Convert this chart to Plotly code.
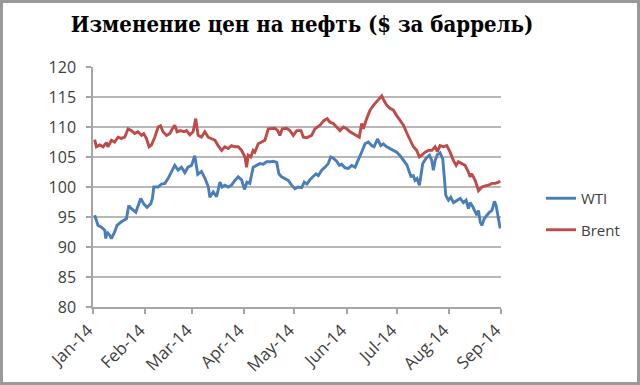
import pandas as pd
import plotly.graph_objects as go

# Days since 1 Jan 2014 at which prices were read, and prices ($ per barrel)
wti_day = [1.0, 2.0, 3.0, 5.0, 7.0, 7.6, 8.3, 10.0, 11.0, 12.9, 14.3, 16.9, 19.9, 21.3, 22.9,
           25.5, 26.8, 28.4, 30.2, 32.2, 34.4, 35.4, 36.2, 38.8, 40.8, 42.8, 44.7, 46.8, 48.7,
           50.7, 52.7, 54.7, 56.6, 58.7, 60.6, 62.4, 64.6, 66.6, 68.6, 69.6, 71.6, 73.6, 75.6,
           76.9, 78.5, 80.5, 82.5, 84.5, 86.5, 88.5, 90.2, 91.7, 93.4, 95.4, 97.4, 99.4, 101.4,
           103.4, 105.4, 107.3, 109.4, 110.7, 112.3, 114.3, 116.3, 118.3, 120.3, 122.2, 124.3,
           125.8, 127.4, 129.2, 131.2, 132.8, 134.2, 136.2, 138.2, 140.1, 141.6, 143.1, 145.1,
           146.7, 148.1, 150.1, 152.1, 154.1, 156.1, 158.0, 160.0, 162.0, 164.0, 166.0, 167.4,
           169.4, 171.4, 172.9, 174.9, 176.9, 178.9, 180.9, 182.9, 184.9, 186.9, 189.3, 190.8,
           191.8, 193.0, 194.4, 195.2, 196.4, 198.4, 200.4, 201.8, 202.7, 203.8, 205.1, 206.7,
           208.3, 209.3, 210.1, 211.7, 213.1, 214.7, 216.7, 218.7, 220.6, 222.2, 223.6, 224.6,
           226.2, 227.6, 228.6, 229.6, 230.6, 231.6, 233.0, 234.6, 236.1, 237.6, 239.1, 240.1,
           241.1, 242.5]
wti = [95.3, 94.2, 93.6, 93.3, 92.8, 91.4, 92.5, 91.95, 91.4, 92.5, 93.6, 94.2, 94.7, 96.9, 96.4,
       95.8, 96.7, 98.1, 97.2, 96.6, 97.2, 98.1, 100.0, 100.0, 100.5, 100.6, 101.4, 102.5, 103.6,
       102.8, 103.3, 102.4, 103.3, 103.6, 105.2, 102.1, 102.6, 101.5, 100.1, 98.3, 99.2, 98.4, 100.8,
       100.0, 100.3, 100.0, 100.3, 101.1, 101.7, 101.2, 99.6, 100.8, 100.6, 103.3, 103.6, 103.9, 103.8,
       104.2, 104.2, 104.3, 104.1, 102.2, 101.7, 101.4, 101.1, 100.3, 99.7, 100.0, 99.9,
       100.8, 100.5, 101.2, 101.7, 102.2, 101.9, 102.8, 103.3, 103.9, 105.0, 104.8, 104.3,
       103.6, 103.8, 103.2, 103.1, 103.6, 103.3, 104.4, 105.8, 107.2, 107.5, 106.9, 106.7,
       108.0, 106.9, 107.2, 106.7, 106.4, 106.1, 105.8, 105.2, 104.4, 103.7, 101.8, 101.9,
       101.1, 101.4, 100.3, 101.9, 103.9, 104.8, 105.3, 104.4, 102.8, 104.4, 105.4, 105.7,
       104.7, 101.4, 98.6, 97.8, 98.3, 97.4, 97.8, 98.1, 97.4, 97.8, 96.4, 97.4,
       96.7, 95.8, 95.3, 96.1, 94.2, 93.6, 94.7, 95.3, 95.8, 96.1, 97.6, 96.9,
       95.3, 93.1]

brent_day = [1.0, 2.0, 4.0, 6.0, 8.0, 8.9, 11.0, 12.9, 14.9, 16.9, 18.9, 20.9, 22.9, 24.9, 26.8,
             28.9, 30.2, 31.8, 33.4, 34.8, 36.8, 38.8, 40.2, 41.7, 43.8, 45.7, 47.3, 48.7, 50.1,
             52.1, 54.1, 55.7, 57.7, 59.6, 61.2, 62.6, 64.6, 66.6, 68.6, 70.6, 72.6, 74.5, 76.6,
             78.5, 80.5, 82.5, 84.5, 86.5, 88.5, 90.5, 91.5, 92.4, 94.0, 95.4, 96.4, 98.4, 100.4,
             102.4, 104.4, 106.4, 108.4, 110.0, 111.3, 112.7, 115.3, 117.3, 119.3, 121.3, 123.9,
             125.3, 127.3, 130.2, 132.2, 135.2, 137.6, 139.5, 141.1, 143.1, 145.1, 147.1, 149.1,
             151.1, 153.1, 155.0, 157.1, 158.6, 160.0, 161.0, 163.0, 165.0, 167.0, 169.4, 172.0,
             173.3, 175.0, 176.9, 178.9, 180.9, 182.9, 184.9, 186.9, 188.9, 190.8, 192.8, 194.4,
             195.8, 197.8, 199.8, 201.8, 203.8, 205.1, 206.7, 208.7, 210.7, 212.7, 214.7, 216.3,
             217.6, 219.7, 221.6, 223.6, 224.6, 225.6, 227.6, 229.6, 231.6, 233.6, 235.5, 237.6,
             239.5, 241.5, 242.5]
brent = [107.9, 106.7, 107.0, 106.7, 107.4, 106.7, 107.8, 107.5, 108.3, 108.1, 108.3, 109.7, 109.4, 108.9, 109.2,
         108.6, 108.9, 108.1, 106.7, 107.0, 108.3, 110.0, 110.2, 109.2, 108.6, 108.9, 109.7, 110.3, 109.2,
         109.4, 109.2, 109.4, 108.7, 109.2, 111.4, 108.6, 108.3, 109.2, 108.3, 108.1, 107.8, 106.9, 106.1,
         106.7, 106.4, 106.9, 106.7, 106.7, 106.1, 105.0, 103.3, 105.3, 105.0, 106.1, 105.8, 107.2, 107.5,
         107.8, 109.7, 109.8, 109.8, 109.4, 108.6, 109.7, 109.8, 109.4, 108.6, 109.4, 109.4,
         108.3, 108.2, 108.6, 109.7, 110.3, 111.1, 111.4, 110.8, 110.6, 110.0, 109.4, 110.0,
         109.7, 109.2, 108.9, 108.6, 108.3, 110.6, 109.7, 111.4, 112.8, 113.6, 114.4, 115.2,
         114.4, 113.6, 113.1, 112.8, 111.9, 111.1, 110.3, 109.0, 107.7, 106.7, 106.1, 105.0,
         105.3, 105.8, 106.1, 106.1, 106.7, 105.9, 106.9, 106.7, 106.9, 105.8, 104.4, 103.6,
         104.2, 103.9, 103.6, 102.5, 101.7, 102.2, 101.1, 99.4, 100.0, 100.2, 100.3, 100.6,
         100.6, 100.8, 101.0]

month_ticks = ["2014-01-01", "2014-02-01", "2014-03-01", "2014-04-01", "2014-05-01",
               "2014-06-01", "2014-07-01", "2014-08-01", "2014-09-01"]
month_labels = ["Jan-14", "Feb-14", "Mar-14", "Apr-14", "May-14", "Jun-14", "Jul-14", "Aug-14", "Sep-14"]

title_text = "Изменение цен на нефть ($ за баррель)"

start = pd.Timestamp("2014-01-01")
wti_dates = start + pd.to_timedelta(wti_day, unit="D")
brent_dates = start + pd.to_timedelta(brent_day, unit="D")

fig = go.Figure()
fig.add_trace(go.Scatter(x=wti_dates, y=wti, mode="lines", name="WTI", legendgroup="wti",
                         line=dict(color="#4A7EBB", width=2.9)))
fig.add_trace(go.Scatter(x=brent_dates, y=brent, mode="lines", name="Brent", legendgroup="brent",
                         line=dict(color="#BE4B48", width=2.9)))

L, R, T, B = 93, 139, 67, 78
W, H = 640, 385
pw, ph = W - L - R, H - T - B

fig.update_layout(
    width=W, height=H,
    margin=dict(l=L, r=R, t=T, b=B, autoexpand=False),
    paper_bgcolor="white", plot_bgcolor="white",
    title=dict(text=title_text, x=0.472, xref="container", xanchor="center",
               y=1 - 24 / H, yref="container", yanchor="middle",
               font=dict(family="DejaVu Serif Condensed", size=22, color="#000000", weight="bold")),
    font=dict(family="Open Sans", size=15, color="#404040"),
    showlegend=True,
    legend=dict(x=(541 - L) / pw, y=1 - (182 - T) / ph, xanchor="left", yanchor="top",
                font=dict(family="Open Sans", size=15, color="#404040"),
                tracegroupgap=9, bgcolor="rgba(0,0,0,0)"),
    xaxis=dict(type="date", range=["2014-01-01", "2014-09-01"], tickmode="array",
               tickvals=month_ticks, ticktext=month_labels, tickangle=-45,
               showgrid=False, showline=True, linecolor="#A6A6A6", linewidth=1.5,
               ticks="outside", ticklen=5, tickcolor="#A6A6A6", tickwidth=1.5,
               automargin=False, ticklabelshift=-5,
               tickfont=dict(family="Open Sans", size=17, color="#404040"), zeroline=False),
    yaxis=dict(range=[80, 120], dtick=5, tick0=80, showgrid=True, gridcolor="#B8B8B8",
               gridwidth=1.5, showline=True, linecolor="#A6A6A6", linewidth=1.5,
               ticks="outside", ticklen=5, tickcolor="#A6A6A6", tickwidth=1.5,
               ticklabelstandoff=7, automargin=False,
               tickfont=dict(family="Open Sans", size=16, color="#404040"), zeroline=False),
)

# outer frame of the chart picture
fig.add_shape(type="rect", xref="paper", yref="paper",
              x0=(1.5 - L) / pw, x1=(W - 1.5 - L) / pw,
              y0=1 - (H - 1.5 - T) / ph, y1=1 - (1.5 - T) / ph,
              line=dict(color="#9A9A9A", width=3), fillcolor="rgba(0,0,0,0)", layer="below")

fig.write_html("out.html", config={"displayModeBar": False},
               post_script="document.body.style.margin='0';document.body.style.overflow='hidden';")
